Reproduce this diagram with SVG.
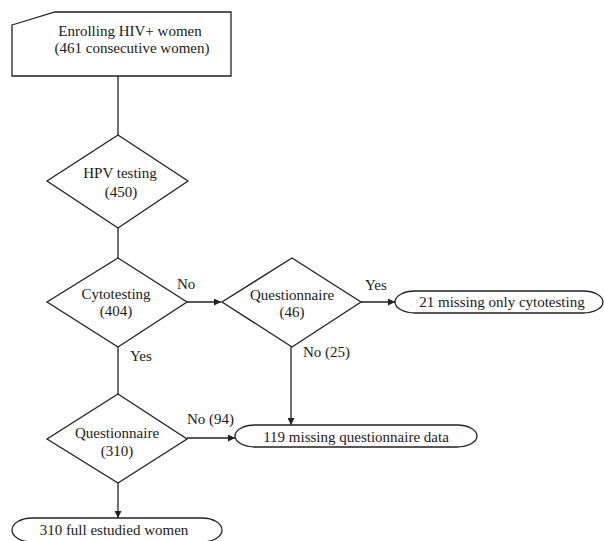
<svg xmlns="http://www.w3.org/2000/svg" width="604" height="541" viewBox="0 0 604 541">
<style>
  .shape { fill: #ffffff; stroke: #222222; stroke-width: 1.3; }
  .line { fill: none; stroke: #222222; stroke-width: 1.3; }
  text { font-family: "Liberation Serif", "Times New Roman", serif; font-size: 15px; fill: #1a1a1a; text-anchor: middle; }
  .lbl { text-anchor: start; }
</style>
<defs>
  <marker id="arrow" viewBox="0 0 10 10" refX="10" refY="5" markerWidth="8" markerHeight="7" markerUnits="userSpaceOnUse" orient="auto">
    <path d="M0,0 L10,5 L0,10 z" fill="#222222"/>
  </marker>
</defs>
<rect width="604" height="541" fill="#ffffff"/>
<g id="connectors">
  <line class="line" x1="118" y1="76" x2="118" y2="135"/>
  <line class="line" x1="118" y1="228" x2="118" y2="258"/>
  <line class="line" x1="118" y1="347" x2="118" y2="394"/>
  <line class="line" x1="187" y1="302" x2="221" y2="302" marker-end="url(#arrow)"/>
  <line class="line" x1="361" y1="302" x2="395" y2="302" marker-end="url(#arrow)"/>
  <line class="line" x1="291" y1="347" x2="291" y2="425" marker-end="url(#arrow)"/>
  <line class="line" x1="187" y1="438" x2="235" y2="438" marker-end="url(#arrow)"/>
  <line class="line" x1="118" y1="483" x2="118" y2="518" marker-end="url(#arrow)"/>
  <text class="lbl" x="177" y="289">No</text>
  <text class="lbl" x="130" y="361">Yes</text>
  <text class="lbl" x="365" y="290">Yes</text>
  <text class="lbl" x="303" y="357">No (25)</text>
  <text class="lbl" x="187" y="424">No (94)</text>
</g>
<g id="enrolling">
  <polygon class="shape" points="12,25 55,12 231,12 231,76 12,76"/>
  <text x="130" y="36">Enrolling HIV+ women</text>
  <text x="132" y="53">(461 consecutive women)</text>
</g>
<g id="hpv">
  <polygon class="shape" points="118,135 188,181 118,228 47,181"/>
  <text x="120" y="178">HPV testing</text>
  <text x="121" y="197">(450)</text>
</g>
<g id="cyto">
  <polygon class="shape" points="118,258 187,302 118,347 47,302"/>
  <text x="116" y="299">Cytotesting</text>
  <text x="116" y="316">(404)</text>
</g>
<g id="quest46">
  <polygon class="shape" points="292,258 361,302 292,347 222,302"/>
  <text x="292" y="300">Questionnaire</text>
  <text x="292" y="317">(46)</text>
</g>
<g id="missing-cyto">
  <path class="shape" d="M415,291 H583 A20,11 0 0 1 583,313 H415 A20,11 0 0 1 415,291 Z"/>
  <text x="502" y="307">21 missing only cytotesting</text>
</g>
<g id="quest310">
  <polygon class="shape" points="118,394 187,439 118,483 47,439"/>
  <text x="117" y="438">Questionnaire</text>
  <text x="117" y="456">(310)</text>
</g>
<g id="missing-quest">
  <path class="shape" d="M255,425 H457 A20,11 0 0 1 457,447 H255 A20,11 0 0 1 255,425 Z"/>
  <text x="356" y="442">119 missing questionnaire data</text>
</g>
<g id="full">
  <path class="shape" d="M32,518 H202 A20,12 0 0 1 202,542 H32 A20,12 0 0 1 32,518 Z"/>
  <text x="114" y="535">310 full estudied women</text>
</g>
</svg>
